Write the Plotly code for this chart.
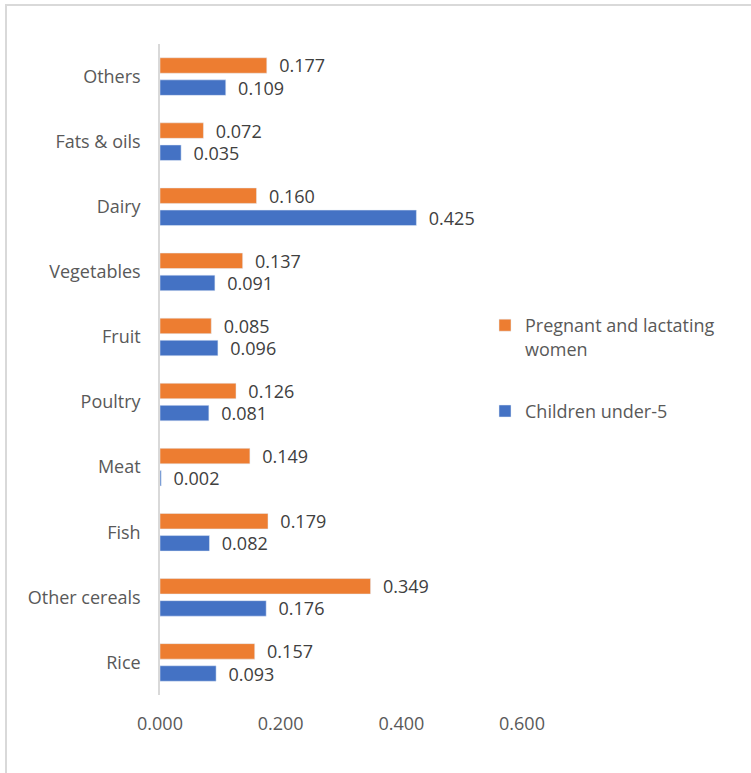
import plotly.graph_objects as go

categories = ["Rice", "Other cereals", "Fish", "Meat", "Poultry", "Fruit",
              "Vegetables", "Dairy", "Fats & oils", "Others"]
pregnant = [0.157, 0.349, 0.179, 0.149, 0.126, 0.085, 0.137, 0.160, 0.072, 0.177]
children = [0.093, 0.176, 0.082, 0.002, 0.081, 0.096, 0.091, 0.425, 0.035, 0.109]
x_ticks = [0, 0.2, 0.4, 0.6]

FONT = "Open Sans, Noto Sans, sans-serif"
W, H = 751, 773
L, R, T, B = 160, 229, 44, 78
pw, ph = W - L - R, H - T - B

def px_x(px):
    return (px - L) / pw

def px_y(py):
    return (H - B - py) / ph

fig = go.Figure()
fig.add_trace(go.Bar(
    y=categories, x=children, orientation="h", name="Children under-5",
    marker=dict(color="#4472C4"), legendrank=2, legendgroup="c",
    texttemplate="\u00a0\u00a0%{x:.3f}", textposition="outside",
    constraintext="none", cliponaxis=False,
    textfont=dict(family=FONT, size=18, color="#404040"),
))
fig.add_trace(go.Bar(
    y=categories, x=pregnant, orientation="h",
    name="Pregnant and lactating<br>women",
    marker=dict(color="#ED7D31"), legendrank=1, legendgroup="p",
    texttemplate="\u00a0\u00a0%{x:.3f}", textposition="outside",
    constraintext="none", cliponaxis=False,
    textfont=dict(family=FONT, size=18, color="#404040"),
))

fig.update_layout(
    width=W, height=H,
    margin=dict(l=L, r=R, t=T, b=B, pad=0),
    paper_bgcolor="white", plot_bgcolor="white",
    barmode="group", bargap=0.32, bargroupgap=0.30,
    font=dict(family=FONT, size=18, color="#595959"),
    showlegend=True,
    legend=dict(
        x=px_x(485), y=px_y(307), xanchor="left", yanchor="top",
        traceorder="grouped", tracegroupgap=36, valign="top",
        font=dict(family=FONT, size=18, color="#595959"),
        bgcolor="rgba(0,0,0,0)",
    ),
    xaxis=dict(
        range=[0, 0.6], tickvals=x_ticks, tickformat=".3f",
        showgrid=False, zeroline=False, showline=False, ticks="",
        ticklabelstandoff=16,
        tickfont=dict(family=FONT, size=18, color="#595959"),
    ),
    yaxis=dict(
        type="category", categoryorder="array", categoryarray=categories,
        showgrid=False, zeroline=False, showline=True,
        linecolor="#d9d9d9", linewidth=1.5, ticks="",
        ticklabelstandoff=14,
        tickfont=dict(family=FONT, size=18, color="#595959"),
    ),
    shapes=[dict(
        type="rect", xref="paper", yref="paper",
        x0=px_x(6), x1=px_x(780), y0=px_y(800), y1=px_y(5),
        line=dict(color="#d9d9d9", width=2), fillcolor="rgba(0,0,0,0)",
        layer="below",
    )],
)

fig.write_html("out.html", config={"displayModeBar": False},
               post_script="document.body.style.margin='0';document.body.style.padding='0';")
